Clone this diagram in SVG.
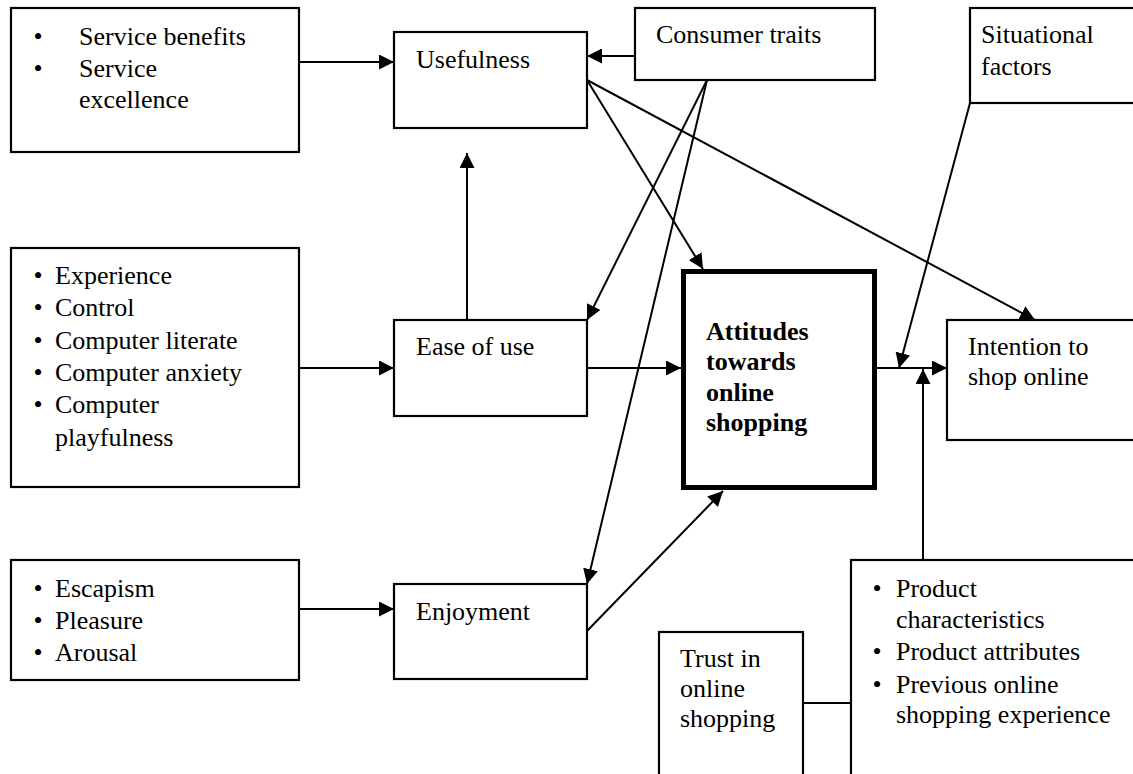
<svg xmlns="http://www.w3.org/2000/svg" width="1133" height="774" viewBox="0 0 1133 774">
<defs>
<marker id="ah" viewBox="0 0 15 15" refX="15" refY="7.5" markerWidth="15" markerHeight="15" markerUnits="userSpaceOnUse" orient="auto">
<path d="M0,0 L15,7.5 L0,15 z" fill="#000"/>
</marker>
</defs>
<style>
.box{fill:#fff;stroke:#000;stroke-width:2.2}
.main{fill:#fff;stroke:#000;stroke-width:5}
text{font-family:"Liberation Serif","Times New Roman",serif;font-size:26px;fill:#000}
.b{font-weight:bold}
.bul{text-anchor:middle}
.c{fill:none;stroke:#000;stroke-width:2}
.a{marker-end:url(#ah)}
</style>
<rect width="1133" height="774" fill="#fff"/>
<g id="connectors">
<line class="c a" x1="299" y1="62" x2="394" y2="62"/>
<line class="c a" x1="635" y1="56" x2="587" y2="56"/>
<line class="c a" x1="587" y1="80" x2="703" y2="269"/>
<line class="c a" x1="587" y1="80" x2="1035" y2="320"/>
<line class="c a" x1="707" y1="80" x2="587" y2="320"/>
<line class="c a" x1="707" y1="80" x2="587" y2="584"/>
<line class="c a" x1="467" y1="320" x2="467" y2="153"/>
<line class="c a" x1="299" y1="368" x2="394" y2="368"/>
<line class="c a" x1="587" y1="368" x2="681" y2="368"/>
<line class="c a" x1="877" y1="368" x2="947" y2="368"/>
<line class="c a" x1="970" y1="103" x2="899" y2="368"/>
<line class="c a" x1="299" y1="609" x2="394" y2="609"/>
<line class="c a" x1="587" y1="631" x2="723" y2="491"/>
<line class="c a" x1="923" y1="560" x2="923" y2="369"/>
<line class="c" x1="803" y1="703" x2="851" y2="703"/>
</g>
<g id="service">
<rect class="box" x="11" y="8" width="288" height="144"/>
<text class="bul" x="38" y="45">•</text>
<text class="bul" x="38" y="77">•</text>
<text x="79" y="45">Service benefits</text>
<text x="79" y="77">Service</text>
<text x="79" y="108">excellence</text>
</g>
<g id="usefulness">
<rect class="box" x="394" y="32" width="193" height="96"/>
<text x="416" y="68">Usefulness</text>
</g>
<g id="consumer-traits">
<rect class="box" x="635" y="8" width="240" height="72"/>
<text x="656" y="43">Consumer traits</text>
</g>
<g id="situational">
<rect class="box" x="970" y="8" width="180" height="95"/>
<text x="981" y="43">Situational</text>
<text x="981" y="75">factors</text>
</g>
<g id="experience">
<rect class="box" x="11" y="248" width="288" height="239"/>
<text class="bul" x="38" y="284">•</text>
<text class="bul" x="38" y="316">•</text>
<text class="bul" x="38" y="349">•</text>
<text class="bul" x="38" y="381">•</text>
<text class="bul" x="38" y="413">•</text>
<text x="55" y="284">Experience</text>
<text x="55" y="316">Control</text>
<text x="55" y="349">Computer literate</text>
<text x="55" y="381">Computer anxiety</text>
<text x="55" y="413">Computer</text>
<text x="55" y="446">playfulness</text>
</g>
<g id="ease">
<rect class="box" x="394" y="320" width="193" height="96"/>
<text x="416" y="355">Ease of use</text>
</g>
<g id="attitudes">
<rect class="main" x="683.5" y="271.5" width="191" height="216"/>
<text class="b" x="706" y="340">Attitudes</text>
<text class="b" x="706" y="370">towards</text>
<text class="b" x="706" y="401">online</text>
<text class="b" x="706" y="431">shopping</text>
</g>
<g id="intention">
<rect class="box" x="947" y="320" width="200" height="120"/>
<text x="968" y="355">Intention to</text>
<text x="968" y="385">shop online</text>
</g>
<g id="escapism">
<rect class="box" x="11" y="560" width="288" height="120"/>
<text class="bul" x="38" y="597">•</text>
<text class="bul" x="38" y="629">•</text>
<text class="bul" x="38" y="661">•</text>
<text x="55" y="597">Escapism</text>
<text x="55" y="629">Pleasure</text>
<text x="55" y="661">Arousal</text>
</g>
<g id="enjoyment">
<rect class="box" x="394" y="584" width="193" height="95"/>
<text x="416" y="620">Enjoyment</text>
</g>
<g id="trust">
<rect class="box" x="659" y="632" width="144" height="160"/>
<text x="680" y="667">Trust in</text>
<text x="680" y="697">online</text>
<text x="680" y="727">shopping</text>
</g>
<g id="product">
<rect class="box" x="851" y="560" width="300" height="230"/>
<text class="bul" x="877" y="597">•</text>
<text class="bul" x="877" y="660">•</text>
<text class="bul" x="877" y="693">•</text>
<text x="896" y="597">Product</text>
<text x="896" y="628">characteristics</text>
<text x="896" y="660">Product attributes</text>
<text x="896" y="693">Previous online</text>
<text x="896" y="723">shopping experience</text>
</g>
</svg>
